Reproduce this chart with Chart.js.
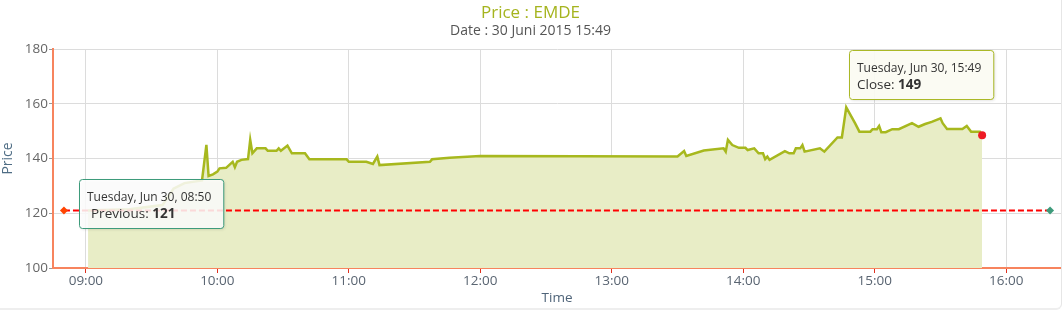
<!DOCTYPE html>
<html><head><meta charset="utf-8">
<script src="https://cdn.jsdelivr.net/npm/chart.js@4.4.1/dist/chart.umd.min.js"></script>
<style>
html,body{margin:0;padding:0;background:#fff;}
#frame{position:relative;width:1061px;height:308px;border-right:1px solid #e6e6e6;border-bottom:2px solid #eeeeee;border-bottom-right-radius:6px;overflow:hidden;}
canvas{display:block;}
</style></head><body>
<div id="frame"><canvas id="c" width="1061" height="308"></canvas></div>
<script>
const TITLE = 'Price : EMDE';
const SUBTITLE = 'Date : 30 Juni 2015 15:49';
const DAY_LABEL = 'Tuesday, Jun 30, ';
const X_TITLE = 'Time';
const Y_TITLE = 'Price';

const times = ['09:01','09:20','09:35','09:40','09:45','09:53','09:55','09:56','09:58','10:00','10:01','10:04','10:07','10:08','10:09','10:11','10:14','10:15','10:16','10:18','10:22','10:23','10:27','10:28','10:29','10:32','10:34','10:40','10:42','10:59','11:00','11:08','11:11','11:13','11:14','11:37','11:38','11:46','12:00','13:30','13:33','13:34','13:42','13:51','13:52','13:53','13:55','13:58','14:01','14:02','14:05','14:07','14:09','14:10','14:11','14:12','14:19','14:21','14:23','14:24','14:26','14:27','14:28','14:35','14:37','14:43','14:45','14:47','14:51','14:53','14:58','14:59','15:01','15:02','15:03','15:05','15:08','15:11','15:17','15:20','15:23','15:26','15:30','15:31','15:33','15:40','15:42','15:44','15:48','15:49'];
const prices = [121,121.5,123,129,131,132,145,133.6,134.2,135.2,136.4,136.6,138.8,136.8,138.8,139.5,139.8,146.8,141.9,143.7,143.7,142.8,142.8,143.7,142.8,144.7,141.9,141.9,139.7,139.7,138.8,138.8,138,140.7,137.6,138.8,139.7,140.3,140.9,140.7,142.7,140.9,142.9,143.7,142.5,146.8,144.9,143.9,143.9,143.1,143.7,141.9,141.9,139.8,140.7,139.5,142.7,141.9,141.9,143.7,143.7,144.9,142.5,143.7,142.5,147.7,147.7,158.7,152.9,149.8,149.8,150.7,150.7,151.9,149.6,149.6,150.7,150.7,152.9,151.6,152.6,153.4,154.7,152.9,150.8,150.8,151.9,149.8,149.8,148.5];

const previousTimes = ['08:50','16:20'];
const previousValue = 121;

const xRange = ['08:45','16:25'];
const xTicks = ['09:00','10:00','11:00','12:00','13:00','14:00','15:00','16:00'];
const yTicks = [100,120,140,160,180];

const toMin = s => { const p = s.split(':').map(Number); return p[0]*60 + p[1]; };
const fmt = v => String(Math.floor(v/60)).padStart(2,'0') + ':' + String(Math.round(v%60)).padStart(2,'0');
const FONT = "'Open Sans', sans-serif";
Chart.defaults.font.family = FONT;

const priceData = times.map((t,i) => ({x: toMin(t), y: prices[i]}));
const prevData = previousTimes.map(t => ({x: toMin(t), y: previousValue}));
const last = priceData.length - 1;

function roundRect(ctx, x, y, w, h, r){
  ctx.beginPath();
  ctx.moveTo(x+r, y);
  ctx.lineTo(x+w-r, y); ctx.quadraticCurveTo(x+w, y, x+w, y+r);
  ctx.lineTo(x+w, y+h-r); ctx.quadraticCurveTo(x+w, y+h, x+w-r, y+h);
  ctx.lineTo(x+r, y+h); ctx.quadraticCurveTo(x, y+h, x, y+h-r);
  ctx.lineTo(x, y+r); ctx.quadraticCurveTo(x, y, x+r, y);
  ctx.closePath();
}

function drawTip(ctx, o){
  ctx.save();
  ctx.font = '12px ' + FONT; const w1 = ctx.measureText(o.line1).width;
  ctx.font = '13.5px ' + FONT; const wl = ctx.measureText(o.label).width;
  ctx.font = 'bold 13.5px ' + FONT; const wv = ctx.measureText(o.value).width;
  const w = Math.max(w1, o.indent + wl + wv) + 8 + 12;
  const h = 49;
  const left = Math.round(o.alignRight ? o.ax - w : o.ax);
  const top = Math.round(o.ay);
  ctx.shadowColor = 'rgba(0,0,0,0.15)';
  ctx.shadowOffsetX = 1; ctx.shadowOffsetY = 1; ctx.shadowBlur = 3;
  roundRect(ctx, left+0.5, top+0.5, w, h, 3);
  ctx.fillStyle = o.bg; ctx.fill();
  ctx.shadowColor = 'transparent';
  ctx.lineWidth = 1; ctx.strokeStyle = o.border; ctx.stroke();
  ctx.fillStyle = '#333333';
  ctx.textBaseline = 'alphabetic';
  ctx.font = '12px ' + FONT;
  ctx.fillText(o.line1, left + 8, top + 22);
  ctx.font = '13.5px ' + FONT;
  ctx.fillText(o.label, left + 8 + o.indent, top + 39);
  ctx.font = 'bold 13.5px ' + FONT;
  ctx.fillText(o.value, left + 8 + o.indent + wl, top + 39);
  ctx.restore();
}

const tipPlugin = {
  id: 'staticTips',
  afterDraw(chart){
    const {ctx, scales:{x, y}} = chart;
    const px = x.getPixelForValue(prevData[0].x), py = y.getPixelForValue(previousValue);
    drawTip(ctx, {ax: px + 15, ay: py - 32, line1: DAY_LABEL + previousTimes[0], label: 'Previous: ', value: String(previousValue), indent: 4, bg: 'rgba(255,255,255,0.85)', border: '#3d9b7b'});
    const lx = x.getPixelForValue(priceData[last].x), ly = y.getPixelForValue(priceData[last].y);
    drawTip(ctx, {ax: lx + 11, ay: ly - 85, alignRight: true, line1: DAY_LABEL + times[last], label: 'Close: ', value: String(Math.round(prices[last])), indent: 0, bg: 'rgba(253,253,244,0.92)', border: '#aab827'});
  }
};

new Chart(document.getElementById('c'), {
  type: 'line',
  data: { datasets: [
    { label: 'Previous', data: prevData, borderColor: '#ff0000', borderWidth: 2, borderDash: [6,3], fill: false,
      pointStyle: 'rectRot', pointRadius: 4, pointHoverRadius: 4, pointBorderWidth: 0,
      pointBackgroundColor: ['#ff4400','#3d9b7b'], pointBorderColor: ['#ff4400','#3d9b7b'] },
    { label: 'Close', data: priceData, borderColor: '#a7b81e', borderWidth: 2.5, backgroundColor: '#e8edc6', fill: 'start', tension: 0,
      pointRadius: c => c.dataIndex === last ? 4 : 0, pointHoverRadius: 0, pointBackgroundColor: '#ee1b24', pointBorderWidth: 0 }
  ]},
  options: {
    responsive: false, animation: false, events: [],
    layout: { padding: 0, autoPadding: false },
    plugins: {
      legend: { display: false }, tooltip: { enabled: false },
      title: { display: true, text: TITLE, color: '#a5b41e', font: { size: 17, weight: 'normal', lineHeight: 1.2 }, padding: { top: 3.3, bottom: 0 } },
      subtitle: { display: true, text: SUBTITLE, color: '#555555', font: { size: 14, lineHeight: 1 }, padding: { top: 0, bottom: 11.3 } }
    },
    scales: {
      x: { type: 'linear', min: toMin(xRange[0]), max: toMin(xRange[1]),
        afterBuildTicks: a => { a.ticks = xTicks.map(t => ({value: toMin(t)})); },
        ticks: { callback: v => fmt(v), color: '#5a6572', font: { size: 13.5 }, padding: 0, maxRotation: 0, autoSkip: false },
        grid: { color: '#dcdcdc', lineWidth: 1, tickLength: 5, tickColor: '#e0301e' },
        border: { color: '#f7845e', width: 2 },
        title: { display: true, text: X_TITLE, color: '#4f6479', font: { size: 13.5 }, padding: { top: 2, bottom: 2 } },
        afterFit: s => { s.height = 40; } },
      y: { min: yTicks[0], max: yTicks[yTicks.length-1],
        afterBuildTicks: a => { a.ticks = yTicks.map(v => ({value: v})); },
        ticks: { color: '#666666', font: { size: 13.5 }, padding: 1 },
        grid: { color: '#dcdcdc', tickLength: 4, tickColor: '#999999' },
        border: { color: '#f7845e', width: 2 },
        title: { display: true, text: Y_TITLE, color: '#4f6d85', font: { size: 14 }, padding: { top: 0, bottom: 10 } },
        afterFit: s => { s.width = 53; } }
    }
  },
  plugins: [tipPlugin]
});
</script>
</body></html>
